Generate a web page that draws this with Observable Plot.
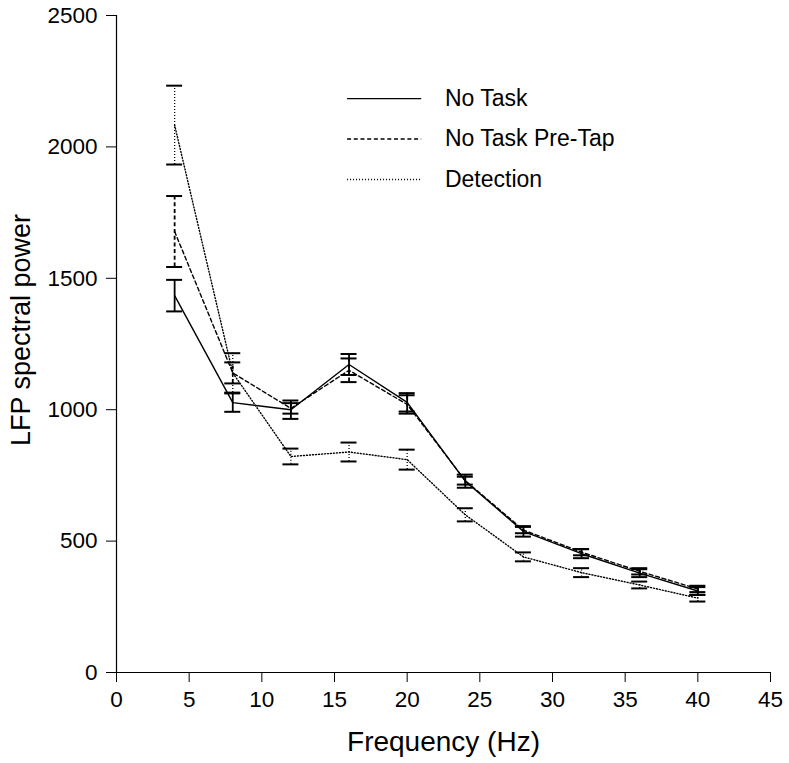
<!DOCTYPE html>
<html>
<head>
<meta charset="utf-8">
<script src="https://cdn.jsdelivr.net/npm/d3@7"></script>
<script src="https://cdn.jsdelivr.net/npm/@observablehq/plot@0.6"></script>
<style>
  html, body { margin: 0; padding: 0; background: #fff; }
  #chart { width: 789px; height: 763px; }
</style>
</head>
<body>
<div id="chart"></div>
<script>
const freqs = [4, 8, 12, 16, 20, 24, 28, 32, 36, 40];
const noTask = [1434, 1027, 1000, 1172, 1028, 728, 537, 452, 378, 310];
const noTaskErr = [60, 35, 35, 40, 35, 25, 20, 17, 15, 15];
const preTap = [1678, 1140, 1005, 1150, 1020, 730, 542, 458, 385, 318];
const preTapErr = [135, 40, 20, 45, 35, 15, 12, 12, 12, 12];
const detection = [2083, 1140, 822, 839, 810, 600, 440, 380, 333, 283];
const detectionErr = [150, 75, 30, 36, 38, 25, 17, 17, 13, 13];
const seriesNames = ["No Task", "No Task Pre-Tap", "Detection"];
const xTicks = [0, 5, 10, 15, 20, 25, 30, 35, 40, 45];
const yTicks = [0, 500, 1000, 1500, 2000, 2500];

const dashes = {"No Task": null, "No Task Pre-Tap": "4,2.7", "Detection": "1,2"};
const series = [
  {name: seriesNames[0], mean: noTask, err: noTaskErr},
  {name: seriesNames[1], mean: preTap, err: preTapErr},
  {name: seriesNames[2], mean: detection, err: detectionErr}
];
const rows = series.flatMap(s => freqs.map((f, i) => ({
  series: s.name, freq: f, value: s.mean[i], lo: s.mean[i] - s.err[i], hi: s.mean[i] + s.err[i]
})));
const capHalf = 0.55;
const caps = rows.flatMap(r => [{...r, cap: r.lo}, {...r, cap: r.hi}]);

// legend placed in data space at the top of the panel
const legendRows = seriesNames.map((name, i) => ({series: name, y: 2184 - i * 154}));

const font = "'Liberation Sans', Arial, Helvetica, sans-serif";
const marks = [
  Plot.axisX({ticks: xTicks, tickSize: 10, tickPadding: 9, fontSize: 22.5, label: null, tickFormat: d => String(d)}),
  Plot.axisY({ticks: yTicks, tickSize: 10, tickPadding: 9, fontSize: 22.5, label: null, tickFormat: d => String(d)}),
  Plot.ruleX([0], {stroke: "#000", strokeWidth: 1.2}),
  Plot.ruleY([0], {stroke: "#000", strokeWidth: 1.2}),
  Plot.text(["Frequency (Hz)"], {frameAnchor: "bottom", dy: 78, fontSize: 28, fill: "#000"}),
  Plot.text(["LFP spectral power"], {frameAnchor: "left", textAnchor: "middle", rotate: -90, dx: -95, dy: -14, fontSize: 27, fill: "#000"})
];
for (const name of seriesNames) {
  const d = rows.filter(r => r.series === name);
  const c = caps.filter(r => r.series === name);
  const dash = dashes[name];
  const lg = legendRows.filter(r => r.series === name);
  marks.push(
    Plot.line(d, {x: "freq", y: "value", stroke: "#000", strokeWidth: 1.4, strokeDasharray: dash}),
    Plot.ruleX(d, {x: "freq", y1: "lo", y2: "hi", stroke: "#000", strokeWidth: name === "Detection" ? 1.3 : 1.8, strokeDasharray: dash}),
    Plot.ruleY(c, {y: "cap", x1: r => r.freq - capHalf, x2: r => r.freq + capHalf, stroke: "#000", strokeWidth: 2}),
    Plot.ruleY(lg, {y: "y", x1: 15.9, x2: 21.0, stroke: "#000", strokeWidth: 1.3, strokeDasharray: dash}),
    Plot.text(lg, {x: 22.6, y: "y", text: "series", textAnchor: "start", fontSize: 23, fill: "#000"})
  );
}

const chart = Plot.plot({
  width: 789,
  height: 763,
  marginLeft: 116,
  marginRight: 19,
  marginTop: 15,
  marginBottom: 91,
  x: {domain: [0, 45]},
  y: {domain: [0, 2500]},
  style: {fontFamily: font, color: "#000", background: "#fff", overflow: "visible"},
  marks
});
document.getElementById("chart").appendChild(chart);
</script>
</body>
</html>
